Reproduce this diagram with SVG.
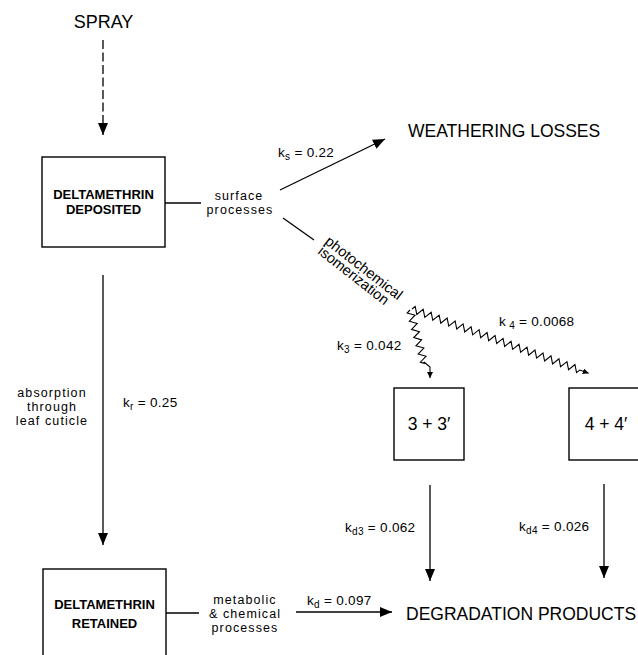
<svg xmlns="http://www.w3.org/2000/svg" width="638" height="655" viewBox="0 0 638 655">
<style>
  text { font-family: "Liberation Sans", Arial, sans-serif; fill: #000; }
  .box { fill: none; stroke: #000; stroke-width: 1.4; }
  .bt { font-size: 13px; font-weight: bold; text-anchor: middle; }
  .lbl { font-size: 12.5px; letter-spacing: 1.1px; text-anchor: middle; }
  .k { font-size: 13.5px; letter-spacing: 0.3px; }
  .sub { font-size: 10px; }
  .ln { fill: none; stroke: #000; stroke-width: 1.3; }
  .wv { fill: none; stroke: #000; stroke-width: 1.1; stroke-linejoin: miter; }
</style>
<defs>
  <marker id="ah" viewBox="0 0 12 10" refX="12" refY="5" markerWidth="12" markerHeight="10" markerUnits="userSpaceOnUse" orient="auto">
    <path d="M0,0 L12,5 L0,10 z" fill="#000"/>
  </marker>
  <marker id="ahs" viewBox="0 0 6 6" refX="6" refY="3" markerWidth="6" markerHeight="6" markerUnits="userSpaceOnUse" orient="auto">
    <path d="M0,0 L6,3 L0,6 z" fill="#000"/>
  </marker>
</defs>

<g id="spray"><text style="font-size:18px" x="103.5" y="28" text-anchor="middle">SPRAY</text></g>

<g id="deposited">
  <rect class="box" x="42" y="157" width="123" height="90"/>
  <text class="bt" x="103.5" y="199">DELTAMETHRIN</text>
  <text class="bt" x="103.5" y="214">DEPOSITED</text>
</g>

<g id="surface">
  <text class="lbl" x="239" y="200">surface</text>
  <text class="lbl" x="240" y="214">processes</text>
</g>

<g id="weathering"><text style="font-size:17.5px" x="408" y="137">WEATHERING LOSSES</text></g>

<g id="photo">
  <text style="font-size:14.5px" transform="translate(324,243) rotate(38)">photochemical</text>
  <text style="font-size:14.5px" transform="translate(317,253) rotate(38)">isomerization</text>
</g>

<g id="box3">
  <rect class="box" x="394" y="388" width="70" height="72"/>
  <text style="font-size:17.5px" x="429" y="430" text-anchor="middle">3 + 3′</text>
</g>

<g id="box4">
  <rect class="box" x="569" y="388" width="80" height="72"/>
  <text style="font-size:17.5px" x="606" y="430" text-anchor="middle">4 + 4′</text>
</g>

<g id="absorption">
  <text class="lbl" x="52" y="397">absorption</text>
  <text class="lbl" x="52" y="411">through</text>
  <text class="lbl" x="52" y="425">leaf cuticle</text>
</g>

<g id="retained">
  <rect class="box" x="43" y="569" width="123" height="95"/>
  <text class="bt" x="104.5" y="609">DELTAMETHRIN</text>
  <text class="bt" x="104.5" y="628">RETAINED</text>
</g>

<g id="metabolic">
  <text class="lbl" x="245" y="604">metabolic</text>
  <text class="lbl" x="245" y="618">&amp; chemical</text>
  <text class="lbl" x="245" y="632">processes</text>
</g>

<g id="degradation"><text style="font-size:17.5px" x="406" y="620">DEGRADATION PRODUCTS</text></g>

<g id="rate-labels">
  <text class="k" x="278" y="157">k<tspan class="sub" dy="3">s</tspan><tspan dy="-3"> = 0.22</tspan></text>
  <text class="k" x="123" y="407">k<tspan class="sub" dy="3">r</tspan><tspan dy="-3"> = 0.25</tspan></text>
  <text class="k" x="337" y="350">k<tspan class="sub" dy="3">3</tspan><tspan dy="-3"> = 0.042</tspan></text>
  <text class="k" x="499" y="326">k<tspan class="sub" dy="3"> 4</tspan><tspan dy="-3"> = 0.0068</tspan></text>
  <text class="k" x="345" y="532">k<tspan class="sub" dy="3">d3</tspan><tspan dy="-3"> = 0.062</tspan></text>
  <text class="k" x="519" y="531">k<tspan class="sub" dy="3">d4</tspan><tspan dy="-3"> = 0.026</tspan></text>
  <text class="k" x="307" y="605">k<tspan class="sub" dy="3">d</tspan><tspan dy="-3"> = 0.097</tspan></text>
</g>

<g id="connectors">
  <line class="ln" x1="103" y1="40" x2="103" y2="135" stroke-dasharray="9,3.5" marker-end="url(#ah)"/>
  <line class="ln" x1="165" y1="203" x2="201" y2="203"/>
  <line class="ln" x1="280" y1="190" x2="385" y2="139" marker-end="url(#ah)"/>
  <line class="ln" x1="283" y1="218" x2="314" y2="240"/>
  <line class="ln" x1="103" y1="275" x2="103" y2="545" marker-end="url(#ah)"/>
  <line class="ln" x1="166" y1="613" x2="199" y2="613"/>
  <line class="ln" x1="296" y1="612" x2="392" y2="612" marker-end="url(#ah)"/>
  <line class="ln" x1="430" y1="485" x2="430" y2="581" marker-end="url(#ah)"/>
  <line class="ln" x1="604" y1="484" x2="604" y2="578" marker-end="url(#ah)"/>
  <g transform="translate(412,309) rotate(20)">
    <path class="wv" marker-end="url(#ahs)" d="M0,0 l2.125,-3.5 4.25,7 4.25,-7 4.25,7 4.25,-7 4.25,7 4.25,-7 4.25,7 4.25,-7 4.25,7 4.25,-7 4.25,7 4.25,-7 4.25,7 4.25,-7 4.25,7 4.25,-7 4.25,7 4.25,-7 4.25,7 4.25,-7 4.25,7 4.25,-7 4.25,7 4.25,-7 4.25,7 4.25,-7 4.25,7 4.25,-7 4.25,7 4.25,-7 4.25,7 4.25,-7 4.25,7 4.25,-7 4.25,7 4.25,-7 4.25,7 4.25,-7 4.25,7 4.25,-7 4.25,7 2.125,-3.5 L188,0"/>
  </g>
  <g transform="translate(410,310) rotate(75)">
    <path class="wv" d="M0,0 l2.125,3.5 4.25,-7 4.25,7 4.25,-7 4.25,7 4.25,-7 4.25,7 4.25,-7 4.25,7 4.25,-7 4.25,7 4.25,-7 4.25,7 2.125,-3.5 L54,0"/>
  </g>
  <path class="wv" d="M424,362 L430,367 L430,378" marker-end="url(#ahs)"/>
</g>
</svg>
